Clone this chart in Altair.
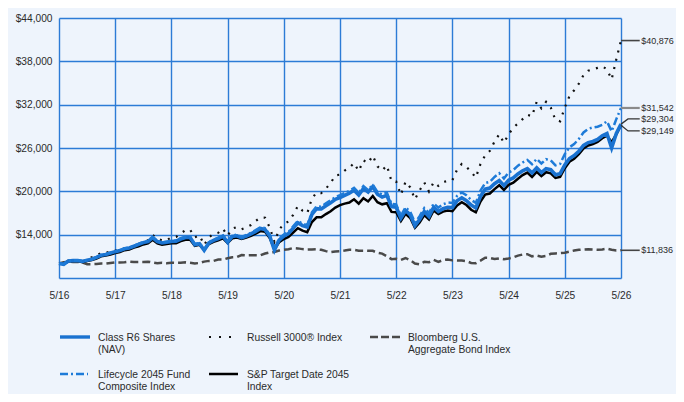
import altair as alt
import pandas as pd

# ---------------- data ----------------
MONTHS = list(range(121))  # monthly, 5/16 .. 5/26
X_TICKS = [0, 12, 24, 36, 48, 60, 72, 84, 96, 108, 120]
X_LABELS = ["5/16", "5/17", "5/18", "5/19", "5/20", "5/21", "5/22", "5/23", "5/24", "5/25", "5/26"]
Y_TICKS = [8000, 14000, 20000, 26000, 32000, 38000, 44000]

fund = [
    10000, 9900, 10350, 10400, 10420, 10300, 10450, 10600, 10850, 11150,
    11250, 11450, 11650, 11800, 12050, 12150, 12400, 12650, 12900, 13050,
    13600, 13050, 12850, 12950, 13050, 13100, 13400, 13600, 13600, 12600,
    12750, 11850, 12850, 13200, 13450, 13800, 12950, 13750, 13850, 13550,
    13800, 14100, 14450, 14850, 14700, 13800, 11850, 13250, 13800, 14150,
    14900, 15650, 15250, 15050, 16800, 17600, 17550, 18000, 18400, 18900,
    19150, 19450, 19750, 20150, 19500, 20400, 19900, 20650, 19600, 19200,
    19450, 17900, 17800, 16300, 17350, 16750, 15250, 16100, 17200, 16500,
    17800, 17200, 17600, 17800, 17750, 18700, 19100, 18700, 18100, 17700,
    19300, 20300, 20450, 21050, 21500, 20800, 21550, 21850, 22400, 22850,
    23150, 22550, 23250, 22600, 23150, 23000, 22300, 22450, 23650, 24550,
    24950, 25550, 26350, 26750, 26900, 27200, 27700, 28000, 26000, 28000,
    29304,
]

lifecycle = [
    10000, 9930, 10380, 10430, 10460, 10330, 10470, 10630, 10880, 11180,
    11290, 11490, 11700, 11850, 12100, 12210, 12460, 12720, 12980, 13130,
    13700, 13130, 12930, 13030, 13140, 13190, 13500, 13700, 13710, 12700,
    12860, 11950, 12960, 13320, 13580, 13940, 13080, 13890, 14000, 13700,
    13960, 14270, 14630, 15040, 14900, 13990, 12050, 13450, 14020, 14380,
    15150, 15910, 15520, 15320, 17100, 17920, 17880, 18340, 18760, 19200,
    19470, 19760, 20060, 20480, 19800, 20720, 20190, 20950, 19920, 19540,
    19810, 18270, 18180, 16620, 17790, 17160, 15680, 16560, 17680, 17000,
    18330, 17750, 18200, 18450, 18400, 19380, 19850, 19450, 18820, 18400,
    20100, 21150, 21330, 22000, 22500, 21780, 22600, 22950, 23550, 24000,
    24350, 23750, 24500, 23850, 24450, 24300, 23600, 23800, 25150, 26100,
    26550, 27250, 28150, 28650, 28850, 28950, 29200, 29700, 28300, 30000,
    31542,
]

sp_target = [
    10000, 9950, 10300, 10350, 10350, 10200, 10350, 10500, 10700, 11000,
    11100, 11250, 11450, 11600, 11850, 11950, 12200, 12400, 12650, 12800,
    13300, 12800, 12600, 12700, 12800, 12800, 13100, 13300, 13300, 12450,
    12600, 11900, 12700, 13000, 13200, 13500, 12850, 13500, 13600, 13400,
    13600, 13850, 14150, 14500, 14400, 13550, 12000, 12950, 13400, 13700,
    14300, 14900, 14550, 14350, 15750, 16400, 16400, 16850, 17250, 17750,
    18100, 18300, 18450, 18900, 18300, 19050, 18600, 19350, 18500, 18200,
    18350, 17150, 17100, 15900, 16900, 16300, 14950, 15700, 16700, 16100,
    17350, 16850, 17200, 17350, 17250, 18050, 18500, 18100, 17450, 17100,
    18600, 19550, 19700, 20300, 20850, 20200, 20900, 21200, 21750, 22250,
    22600, 22000, 22700, 22100, 22650, 22500, 21850, 22000, 23200, 24100,
    24500, 25150, 25950, 26350, 26550, 26850, 27350, 27700, 26800, 27900,
    29149,
]

russell = [
    10000, 10030, 10420, 10440, 10450, 10220, 10680, 10880, 11080, 11500,
    11510, 11620, 11780, 11890, 12110, 12140, 12430, 12700, 13080, 13230,
    13970, 13460, 13190, 13240, 13620, 13690, 14180, 14620, 14680, 13630,
    13880, 12580, 13630, 14090, 14260, 14830, 13870, 14840, 15060, 14750,
    15020, 15340, 15900, 16360, 16340, 15000, 12990, 14690, 15480, 15820,
    16750, 17970, 17320, 16950, 19010, 19830, 19750, 20390, 21140, 22210,
    22310, 22880, 23260, 23920, 22800, 24290, 23930, 24950, 23450, 22870,
    23590, 21400, 21350, 19520, 21340, 20540, 18900, 20120, 21230, 19970,
    21280, 20760, 21290, 21440, 21550, 23000, 23790, 23370, 22700, 21900,
    23800, 25000, 25600, 26900, 27900, 26700, 27900, 28800, 29400, 30000,
    30600, 30400, 32400, 31500, 32400, 31600, 29900, 29700, 31600, 33200,
    34000, 34900, 36100, 36700, 36900, 37100, 37300, 36900, 35500, 38300,
    40876,
]

bloomberg = [
    10000, 10180, 10240, 10230, 10220, 10140, 9900, 9910, 9930, 10000,
    9990, 10070, 10150, 10140, 10180, 10270, 10220, 10230, 10220, 10260,
    10140, 10040, 10110, 10040, 10110, 10100, 10110, 10170, 10100, 10020,
    10080, 10270, 10370, 10370, 10560, 10550, 10740, 10870, 10900, 11180,
    11130, 11160, 11150, 11140, 11390, 11550, 11600, 11800, 11900, 11980,
    12150, 12100, 12000, 11950, 11960, 11980, 11900, 11720, 11570, 11660,
    11700, 11800, 11920, 11900, 11790, 11790, 11760, 11760, 11500, 11380,
    11020, 10610, 10670, 10510, 10770, 10460, 10010, 9880, 10240, 10190,
    10510, 10240, 10490, 10560, 10440, 10420, 10410, 10340, 10080, 10050,
    10400, 10800, 10780, 10620, 10720, 10600, 10700, 10850, 11100, 11250,
    11300, 11000, 11110, 10950, 11050, 11350, 11400, 11450, 11500, 11650,
    11800, 11900, 11950, 11980, 11950, 11920, 11960, 12060, 11900, 11800,
    11836,
]

NAMES = [
    "Class R6 Shares\n(NAV)",
    "Russell 3000\u00ae Index",
    "Bloomberg U.S.\nAggregate Bond Index",
    "Lifecycle 2045 Fund\nComposite Index",
    "S&P Target Date 2045\nIndex",
]

# ---------------- styles ----------------
FONT = "Liberation Sans"
BG = "#EEF4FC"
GRID = "#2C7BD6"
BLUE = "#1A72D0"
TXT = "#2B2B2B"

W, H = 562, 260

x_scale = alt.Scale(domain=[0, 120], nice=False, zero=False)
y_scale = alt.Scale(domain=[8000, 44000], nice=False, zero=False)

lbl_arr = "[" + ",".join('"%s"' % s for s in X_LABELS) + "]"
x_axis = alt.Axis(
    values=X_TICKS, labelExpr=lbl_arr + "[round(datum.value/12)]", title=None,
    grid=True, gridColor=GRID, gridWidth=1.4, gridOpacity=1, ticks=False,
    domain=False, labelFont=FONT, labelFontSize=10.2, labelColor=TXT,
    labelPadding=12, labelFlush=False,
)
y_axis = alt.Axis(
    values=Y_TICKS,
    labelExpr="datum.value == 8000 ? '' : '$' + format(datum.value, ',')",
    title=None, grid=True, gridColor=GRID, gridWidth=1.4, gridOpacity=1,
    ticks=False, domain=False, labelFont=FONT, labelFontSize=10.2,
    labelColor=TXT, labelPadding=7,
)

X = alt.X("m:Q", scale=x_scale, axis=x_axis)
Y = alt.Y("v:Q", scale=y_scale, axis=y_axis)


def series_layer(values, **mark):
    df = pd.DataFrame({"m": MONTHS, "v": values})
    return alt.Chart(df).mark_line(**mark).encode(x=X, y=Y)


layers = [
    series_layer(bloomberg, color="#4A4A4A", strokeWidth=2.5, strokeDash=[8, 4]),
    series_layer(russell, color="#111111", strokeWidth=2.2, strokeDash=[2, 6.5], strokeCap="butt"),
    series_layer(sp_target, color="#000000", strokeWidth=2.5),
    series_layer(fund, color=BLUE, strokeWidth=3.6),
    series_layer(lifecycle, color="#1E7BD8", strokeWidth=2.5, strokeDash=[8, 3, 2, 3]),
]

# ---------------- end labels ----------------
ends = [
    (russell[-1], 0, "#444444", 1.6),
    (lifecycle[-1], 0, "#8A8A8A", 2.2),
    (fund[-1], 730, "#333333", 1.3),
    (sp_target[-1], -780, "#333333", 1.3),
    (bloomberg[-1], 0, "#444444", 1.6),
]
END_M = MONTHS[-1]
for val, shift, col, sw in ends:
    seg = pd.DataFrame({"m": [END_M, END_M + 1.5, END_M + 4.0],
                        "v": [val, val + shift, val + shift]})
    layers.append(
        alt.Chart(seg).mark_line(color=col, strokeWidth=sw).encode(x=X, y=Y)
    )
    lab = pd.DataFrame({"m": [END_M + 4.0], "v": [val + shift],
                        "t": ["$" + format(val, ",")]})
    layers.append(
        alt.Chart(lab).mark_text(align="left", baseline="middle", dx=1.5,
                                 font=FONT, fontSize=9, color=TXT)
        .encode(x=X, y=Y, text="t:N")
    )

# ---------------- legend (drawn below the plot) ----------------
one = pd.DataFrame({"k": [0]})


def swatch(x1, x2, y, **mark):
    return alt.Chart(one).mark_rule(**mark).encode(
        x=alt.value(x1), x2=alt.value(x2), y=alt.value(y))


def legend_text(x, y, text):
    return alt.Chart(one).mark_text(
        align="left", baseline="alphabetic", font=FONT, fontSize=10.3,
        color=TXT, lineBreak="\n", lineHeight=11.3,
    ).encode(x=alt.value(x), y=alt.value(y), text=alt.value(text))


R1, R2 = 319, 356
T1, T2 = 323.3, 360.3
layers += [
    swatch(1, 31, R1, color=BLUE, strokeWidth=3.4),
    legend_text(39, T1, NAMES[0]),
    swatch(150, 172, R1, color="#111111", strokeWidth=2.2, strokeDash=[2, 8], strokeCap="butt"),
    legend_text(188, T1, NAMES[1]),
    swatch(311, 341, R1, color="#4A4A4A", strokeWidth=2.5, strokeDash=[8, 3]),
    legend_text(349, T1, NAMES[2]),
    swatch(1, 29, R2, color="#1E7BD8", strokeWidth=2.5, strokeDash=[8, 3, 2, 3]),
    legend_text(39, T2, NAMES[3]),
    swatch(150, 179, R2, color="#000000", strokeWidth=2.5),
    legend_text(188, T2, NAMES[4]),
]

chart = alt.layer(*layers).properties(
    width=W, height=H,
    background=BG,
    padding={"left": 51, "top": 10, "right": 55, "bottom": 116},
    autosize=alt.AutoSizeParams(type="none"),
).configure_view(stroke=None, fill=BG)

chart.save("out.html", embed_options={"renderer": "svg", "actions": False})
